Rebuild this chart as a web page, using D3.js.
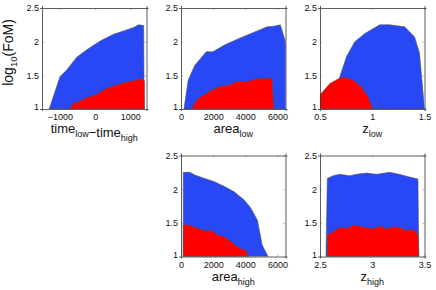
<!DOCTYPE html>
<html>
<head>
<meta charset="utf-8">
<script src="https://cdn.jsdelivr.net/npm/d3@7"></script>
<style>
  body { margin: 0; background: #fff; }
  svg { font-family: "Liberation Sans", Arial, Helvetica, sans-serif; }
</style>
</head>
<body>
<div id="chart"></div>
<script>
const W = 436, H = 290;
const yTicks = [1, 1.5, 2, 2.5];
const yTickLabels = ["1", "1.5", "2", "2.5"];

// time_low - time_high
const timeX = [-1306, -1000, -809, -523, -237, 143, 523, 809, 1094, 1237, 1380, 1394];
const timeBlue = [1, 1.48, 1.58, 1.77, 1.88, 2.01, 2.11, 2.16, 2.21, 2.25, 2.24, 1];
const timeRedX = [-733, -619, -429, -237, 48, 334, 620, 906, 1191, 1286, 1400, 1401];
const timeRed = [1, 1.08, 1.12, 1.17, 1.22, 1.31, 1.36, 1.40, 1.43, 1.46, 1.42, 1];

// area_low
const areaLowX = [184, 450, 860, 1575, 1985, 2700, 3720, 4740, 5350, 5770, 6180, 6520, 6900];
const areaLowBlue = [1, 1.43, 1.65, 1.85, 1.85, 1.95, 2.06, 2.16, 2.22, 2.23, 2.25, 1.98, 1];
const areaLowRedX = [655, 860, 1165, 1472, 1880, 2500, 3110, 3420, 4130, 4740, 5660, 5770];
const areaLowRed = [1, 1.09, 1.18, 1.21, 1.28, 1.34, 1.36, 1.41, 1.41, 1.45, 1.46, 1];

// z_low
const zLowX = [0.64, 0.69, 0.754, 0.833, 0.929, 1.071, 1.167, 1.31, 1.405, 1.452, 1.5];
const zLowBlue = [1, 1.48, 1.78, 2.0, 2.12, 2.25, 2.25, 2.22, 2.07, 1.83, 1];
const zLowRedX = [0.5, 0.595, 0.69, 0.738, 0.817, 0.897, 0.96, 1.008];
const zLowRed = [1.21, 1.38, 1.46, 1.47, 1.43, 1.33, 1.18, 1];

// area_high
const areaHighX = [140, 140, 550, 860, 1470, 2085, 2700, 3310, 3930, 4340, 4750, 4850, 5050, 5260, 5420];
const areaHighBlue = [1, 2.25, 2.25, 2.21, 2.16, 2.11, 2.04, 1.96, 1.84, 1.72, 1.54, 1.42, 1.17, 1.07, 1];
const areaHighRedX = [140, 450, 1060, 1470, 1880, 2190, 2700, 3110, 3720, 4030, 4190];
const areaHighRed = [1.47, 1.47, 1.42, 1.38, 1.39, 1.33, 1.29, 1.22, 1.11, 1.10, 1];

// z_high
const zHighX = [2.557, 2.57, 2.627, 2.69, 2.786, 2.85, 2.945, 3.04, 3.167, 3.26, 3.357, 3.437, 3.446];
const zHighBlue = [1, 2.16, 2.20, 2.22, 2.20, 2.22, 2.24, 2.22, 2.25, 2.22, 2.18, 2.15, 1];
const zHighRedX = [2.57, 2.627, 2.69, 2.754, 2.833, 2.897, 2.976, 3.04, 3.07, 3.135, 3.198, 3.26, 3.326, 3.389, 3.437, 3.446];
const zHighRed = [1.32, 1.37, 1.43, 1.42, 1.47, 1.44, 1.42, 1.42, 1.46, 1.41, 1.44, 1.43, 1.39, 1.40, 1.33, 1];

const panels = [
  { col: 0, row: 0, domain: [-1510, 1460], ticks: [-1000, 0, 1000], label: [["time", "low"], ["\u2212time", "high"]],
    bx: timeX, by: timeBlue, rx: timeRedX, ry: timeRed, ylabel: true },
  { col: 1, row: 0, domain: [0, 6500], ticks: [0, 2000, 4000, 6000], label: [["area", "low"]],
    bx: areaLowX, by: areaLowBlue, rx: areaLowRedX, ry: areaLowRed },
  { col: 2, row: 0, domain: [0.5, 1.5], ticks: [0.5, 1, 1.5], label: [["z", "low"]],
    bx: zLowX, by: zLowBlue, rx: zLowRedX, ry: zLowRed },
  { col: 1, row: 1, domain: [0, 6500], ticks: [0, 2000, 4000, 6000], label: [["area", "high"]],
    bx: areaHighX, by: areaHighBlue, rx: areaHighRedX, ry: areaHighRed },
  { col: 2, row: 1, domain: [2.5, 3.5], ticks: [2.5, 3, 3.5], label: [["z", "high"]],
    bx: zHighX, by: zHighBlue, rx: zHighRedX, ry: zHighRed }
];

const colX = [42, 181, 320];
const rowY = [8, 155.5];
const pw = 104.5, ph = 101;
const blue = "#2748f4", red = "#ff0000";

const svg = d3.select("#chart").append("svg").attr("width", W).attr("height", H);

panels.forEach((p, i) => {
  const x0 = colX[p.col], y0 = rowY[p.row];
  const g = svg.append("g").attr("transform", `translate(${x0},${y0})`);
  const x = d3.scaleLinear().domain(p.domain).range([0, pw]);
  const y = d3.scaleLinear().domain([1, 2.5]).range([ph, 0]);

  g.append("clipPath").attr("id", "clip" + i)
    .append("rect").attr("width", pw).attr("height", ph);

  const toPts = (xs, ys) => {
    const pts = xs.map((v, k) => [v, ys[k]]);
    // close down to the baseline at both ends
    pts.unshift([xs[0], 1]);
    pts.push([xs[xs.length - 1], 1]);
    return pts;
  };
  const line = d3.line().x(d => x(d[0])).y(d => y(d[1]));

  const plot = g.append("g").attr("clip-path", `url(#clip${i})`);
  plot.append("path")
    .attr("d", line(toPts(p.bx, p.by)) + "Z")
    .attr("fill", blue).attr("stroke", "#555").attr("stroke-width", 0.6);
  plot.append("path")
    .attr("d", line(toPts(p.rx, p.ry)) + "Z")
    .attr("fill", red).attr("stroke", "#555").attr("stroke-width", 0.6);

  // box and inward ticks on all sides
  const axes = [
    d3.axisBottom(x).tickValues(p.ticks).tickSize(2).tickFormat(d3.format("")),
    d3.axisTop(x).tickValues(p.ticks).tickSize(2).tickFormat(""),
    d3.axisLeft(y).tickValues(yTicks).tickSize(2).tickFormat((d, k) => yTickLabels[k]),
    d3.axisRight(y).tickValues(yTicks).tickSize(2).tickFormat("")
  ];
  const pos = [[0, ph], [0, 0], [0, 0], [pw, 0]];
  axes.forEach((ax, k) => {
    const a = g.append("g").attr("transform", `translate(${pos[k][0]},${pos[k][1]})`).call(ax);
    a.select(".domain").attr("stroke", "#333").attr("stroke-width", 0.8);
    a.selectAll(".tick line").attr("stroke", "#666").attr("stroke-width", 0.5);
    // turn ticks inward
    if (k === 0) a.selectAll(".tick line").attr("y2", -2);
    if (k === 1) a.selectAll(".tick line").attr("y2", 2);
    if (k === 2) a.selectAll(".tick line").attr("x2", 2);
    if (k === 3) a.selectAll(".tick line").attr("x2", -2);
    a.selectAll(".tick text").attr("font-size", 9).attr("fill", "#111")
      .attr("font-family", "Liberation Sans, Arial, sans-serif");
    if (k === 0) a.selectAll(".tick text").attr("y", 5).attr("dy", "0.71em")
      .text(d => d < 0 ? "\u2212" + Math.abs(d) : d);
    if (k === 2) a.selectAll(".tick text").attr("x", -3)
      .attr("y", d => d === 1 ? -2 : 0);
  });

  // x label with subscripts
  const t = g.append("text").attr("x", pw / 2).attr("y", ph + 24)
    .attr("text-anchor", "middle").attr("fill", "#111");
  p.label.forEach(([main, sub]) => {
    t.append("tspan").attr("font-size", 13).attr("dy", 0).text(main);
    t.append("tspan").attr("font-size", 9).attr("dy", 4).text(sub);
    t.append("tspan").attr("font-size", 13).attr("dy", -4).text("");
  });

  if (p.ylabel) {
    const yl = svg.append("text")
      .attr("transform", `translate(13,${y0 + ph / 2 - 6}) rotate(-90)`)
      .attr("text-anchor", "middle").attr("fill", "#111");
    yl.append("tspan").attr("font-size", 14).text("log");
    yl.append("tspan").attr("font-size", 9.5).attr("dy", 4).text("10");
    yl.append("tspan").attr("font-size", 14).attr("dy", -4).text("(FoM)");
  }
});
</script>
</body>
</html>
